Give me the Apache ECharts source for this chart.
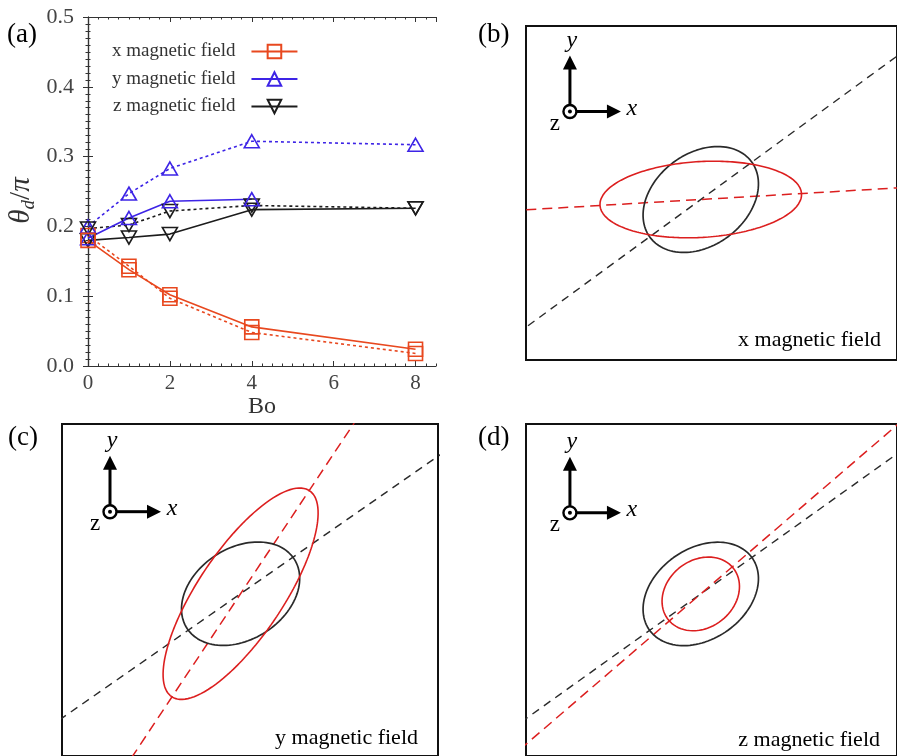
<!DOCTYPE html>
<html>
<head>
<meta charset="utf-8">
<script src="https://cdn.jsdelivr.net/npm/echarts@6.0.0/dist/echarts.min.js"></script>
<style>
  html, body { margin: 0; padding: 0; background: #fff; }
  #chart { width: 897px; height: 756px; }
</style>
</head>
<body>
<div id="chart"></div>
<script>
// ---- (a) deformation angle θd/π versus Bond number ----
const bondNumbers = [0, 1, 2, 4, 8];
const xFieldSolid  = [0.180, 0.138, 0.102, 0.056, 0.024];
const xFieldDotted = [0.187, 0.143, 0.097, 0.048, 0.018];
const yFieldBond   = [0, 1, 2, 4];
const yFieldSolid  = [0.183, 0.212, 0.236, 0.239];
const yFieldDotted = [0.200, 0.247, 0.283, 0.322, 0.317];
const zFieldSolid  = [0.180, 0.184, 0.189, 0.224, 0.226];
const zFieldDotted = [0.197, 0.202, 0.222, 0.230, 0.226];
const yTickLabels  = ['0.0', '0.1', '0.2', '0.3', '0.4', '0.5'];
const legendNames  = ['x magnetic field', 'y magnetic field', 'z magnetic field'];

// ---- (b)-(d) drop outlines: semi-axes and tilt (degrees) ----
const zeroFieldShape = { a: 64.3, b: 46.5, tilt: 34.8 };
const zeroFieldAxisTilt = 35.5;
const panelCaptions   = ['x magnetic field', 'y magnetic field', 'z magnetic field'];
const fieldSemiMajor  = [103.4, 126.0, 42.5];
const fieldSemiMinor  = [37.9, 43.0, 34.5];
const fieldShapeTilt  = [3.2, 57.0, 38.0];
const fieldAxisTilt   = [3.3, 57.0, 40.7];

const FONT = "'Liberation Serif', 'DejaVu Serif', serif";
const RED_A = '#e8481f', BLUE_A = '#3d24e6', BLACK_A = '#1c1c1c';
const RED = '#dc1f1f', DARK = '#2a2a2a';

function ellipsePoints(a, b, tiltDeg) {
  const th = tiltDeg * Math.PI / 180, pts = [];
  for (let k = 0; k <= 240; k++) {
    const t = k / 240 * 2 * Math.PI;
    pts.push([a * Math.cos(t) * Math.cos(th) - b * Math.sin(t) * Math.sin(th),
              a * Math.cos(t) * Math.sin(th) + b * Math.sin(t) * Math.cos(th)]);
  }
  return pts;
}
function axisThrough(tiltDeg) {
  const th = tiltDeg * Math.PI / 180, r = 900;
  return [[-r * Math.cos(th), -r * Math.sin(th)], [r * Math.cos(th), r * Math.sin(th)]];
}
const pairs = (xs, ys) => ys.map((v, i) => [xs[i], v]);

// panel frames for (b), (c), (d); the drop centre is the origin, 1 unit = 1 px
const views = [
  { left: 526, top: 26,  width: 380, height: 334, cx: 705,   cy: 199.5, triad: [-134, 88],    label: '(b)', lx: 478, ly: 35,  capX: 881, capY: 340 },
  { left: 62,  top: 424, width: 376, height: 340, cx: 240.6, cy: 597.8, triad: [-130.6, 84], label: '(c)', lx: 8,   ly: 438, capX: 418, capY: 738 },
  { left: 526, top: 424, width: 380, height: 340, cx: 705,   cy: 598,   triad: [-134, 83],    label: '(d)', lx: 478, ly: 438, capX: 880, capY: 740 }
];

const grids = [{ left: 88, top: 17, width: 348, height: 349, containLabel: false }];
views.forEach(v => grids.push({ left: v.left, top: v.top, width: v.width, height: v.height,
  show: true, borderColor: '#111', borderWidth: 2, backgroundColor: 'rgba(0,0,0,0)' }));

const axisLineA = { show: true, lineStyle: { color: '#333', width: 1.2 } };
const tickA = (len) => ({ show: true, inside: true, length: len, lineStyle: { color: '#333', width: 1 } });

const xAxes = [
  { gridIndex: 0, type: 'value', position: 'bottom', min: 0, max: 8.5, interval: 2,
    axisLine: axisLineA, axisTick: tickA(5), splitLine: { show: false },
    axisLabel: { showMaxLabel: false, fontFamily: FONT, fontSize: 21, color: '#444', margin: 7 },
    name: 'Bo', nameLocation: 'middle', nameGap: 15,
    nameTextStyle: { fontFamily: FONT, fontSize: 24, color: '#333' } },
  { gridIndex: 0, type: 'value', position: 'bottom', min: 0, max: 8.5, interval: 0.25,
    axisLine: { show: false }, axisTick: tickA(2.5), axisLabel: { show: false }, splitLine: { show: false } },
  { gridIndex: 0, type: 'value', position: 'top', min: 0, max: 8.5, interval: 2,
    axisLine: axisLineA, axisTick: tickA(5), axisLabel: { show: false }, splitLine: { show: false } },
  { gridIndex: 0, type: 'value', position: 'top', min: 0, max: 8.5, interval: 0.25,
    axisLine: { show: false }, axisTick: tickA(2.5), axisLabel: { show: false }, splitLine: { show: false } }
];
const minorA = { show: true, splitNumber: 10, length: 2.5, lineStyle: { color: '#333', width: 1 } };
const yAxes = [
  { gridIndex: 0, type: 'value', position: 'left', min: 0, max: 0.5, interval: 0.1,
    axisLine: axisLineA, axisTick: tickA(5), minorTick: minorA, splitLine: { show: false },
    axisLabel: { formatter: (v) => yTickLabels[Math.round(v * 10)], fontFamily: FONT, fontSize: 22, color: '#444', margin: 14 },
    name: '{t|θ}{d|d}{n|/}{t|π}', nameLocation: 'middle', nameGap: 50, nameRotate: 90,
    nameTextStyle: { fontFamily: FONT, fontSize: 28, color: '#333', padding: [0, 18, 0, 0],
      rich: { t: { fontFamily: FONT, fontStyle: 'italic', fontSize: 29, color: '#333', lineHeight: 34 },
              d: { fontFamily: FONT, fontStyle: 'italic', fontSize: 19, color: '#333', verticalAlign: 'bottom', lineHeight: 34 },
              n: { fontFamily: FONT, fontSize: 29, color: '#333', lineHeight: 34 } } } },
  { gridIndex: 0, type: 'value', position: 'right', min: 0, max: 0.5, interval: 0.1,
    axisLine: axisLineA, axisTick: tickA(5), minorTick: minorA, axisLabel: { show: false }, splitLine: { show: false } }
];
views.forEach((v, i) => {
  xAxes.push({ gridIndex: i + 1, type: 'value', show: false, min: v.left - v.cx, max: v.left + v.width - v.cx });
  yAxes.push({ gridIndex: i + 1, type: 'value', show: false, min: v.cy - (v.top + v.height), max: v.cy - v.top });
});

function seriesA(name, data, color, symbol, rotate, dotted, size) {
  return {
    name, type: 'line', xAxisIndex: 0, yAxisIndex: 0, data,
    symbol, symbolSize: size, symbolRotate: rotate, showSymbol: true, animation: false,
    lineStyle: { color, width: 1.6, type: dotted ? [3, 3] : 'solid' },
    itemStyle: { color: 'rgba(0,0,0,0)', borderColor: color, borderWidth: 1.6 },
    emphasis: { disabled: true }
  };
}
const series = [
  seriesA('x magnetic field dotted', pairs(bondNumbers, xFieldDotted), RED_A, 'rect', 0, true, 14),
  seriesA('y magnetic field dotted', pairs(bondNumbers, yFieldDotted), BLUE_A, 'triangle', 0, true, [15, 13]),
  seriesA('z magnetic field dotted', pairs(bondNumbers, zFieldDotted), BLACK_A, 'triangle', 180, true, [15, 13]),
  seriesA(legendNames[2], pairs(bondNumbers, zFieldSolid), BLACK_A, 'triangle', 180, false, [15, 13]),
  seriesA(legendNames[1], pairs(yFieldBond, yFieldSolid), BLUE_A, 'triangle', 0, false, [15, 13]),
  seriesA(legendNames[0], pairs(bondNumbers, xFieldSolid), RED_A, 'rect', 0, false, 14)
];

function outline(i, data, color, dash, width) {
  return { type: 'line', xAxisIndex: 4 + i, yAxisIndex: 2 + i, data, showSymbol: false, symbol: 'none',
    clip: true, animation: false, silent: true,
    lineStyle: { color, width, type: dash || 'solid' } };
}
views.forEach((v, i) => {
  series.push(outline(i, axisThrough(zeroFieldAxisTilt), DARK, [8, 6], 1.4));
  series.push(outline(i, axisThrough(fieldAxisTilt[i]), RED, [10, 6], 1.5));
  series.push(outline(i, ellipsePoints(zeroFieldShape.a, zeroFieldShape.b, zeroFieldShape.tilt), DARK, null, 1.7));
  series.push(outline(i, ellipsePoints(fieldSemiMajor[i], fieldSemiMinor[i], fieldShapeTilt[i]), RED, null, 1.6));
});

const chart = echarts.init(document.getElementById('chart'), null, { renderer: 'canvas' });
chart.setOption({
  backgroundColor: '#fff',
  animation: false,
  grid: grids, xAxis: xAxes, yAxis: yAxes, series,
  legend: {
    data: legendNames, orient: 'vertical', left: 112, top: 42, padding: 0, align: 'right',
    itemWidth: 46, itemHeight: 17, itemGap: 8.5, selectedMode: false,
    textStyle: { fontFamily: FONT, fontSize: 19, color: '#333', padding: [0, 11, 0, 0] }
  }
});

// coordinate triads, panel letters and captions
const g = [{ type: 'text', x: 7, y: 35, style: { text: '(a)', font: '27px ' + FONT, fill: '#000', verticalAlign: 'middle' } }];
views.forEach((v, i) => {
  const [ox, oy] = chart.convertToPixel({ xAxisIndex: 4 + i, yAxisIndex: 2 + i }, v.triad);
  g.push({ type: 'text', x: v.lx, y: v.ly, style: { text: v.label, font: '27px ' + FONT, fill: '#000', verticalAlign: 'middle' } });
  g.push({ type: 'text', x: v.capX, y: v.capY, style: { text: panelCaptions[i], font: '22px ' + FONT, fill: '#000', align: 'right', verticalAlign: 'middle' } });
  g.push({ type: 'line', shape: { x1: ox, y1: oy - 6, x2: ox, y2: oy - 43 }, style: { stroke: '#000', lineWidth: 3 } });
  g.push({ type: 'polygon', shape: { points: [[ox - 7, oy - 42], [ox + 7, oy - 42], [ox, oy - 56]] }, style: { fill: '#000' } });
  g.push({ type: 'line', shape: { x1: ox + 6, y1: oy, x2: ox + 38, y2: oy }, style: { stroke: '#000', lineWidth: 3 } });
  g.push({ type: 'polygon', shape: { points: [[ox + 37, oy - 7], [ox + 37, oy + 7], [ox + 51, oy]] }, style: { fill: '#000' } });
  g.push({ type: 'circle', shape: { cx: ox, cy: oy, r: 6.5 }, style: { stroke: '#000', lineWidth: 2.4, fill: '#fff' } });
  g.push({ type: 'circle', shape: { cx: ox, cy: oy, r: 2 }, style: { fill: '#000' } });
  g.push({ type: 'text', x: ox + 2, y: oy - 71, style: { text: 'y', font: 'italic 24px ' + FONT, fill: '#000', align: 'center', verticalAlign: 'middle' } });
  g.push({ type: 'text', x: ox + 62, y: oy - 3, style: { text: 'x', font: 'italic 24px ' + FONT, fill: '#000', align: 'center', verticalAlign: 'middle' } });
  g.push({ type: 'text', x: ox - 15, y: oy + 12, style: { text: 'z', font: '23px ' + FONT, fill: '#000', align: 'center', verticalAlign: 'middle' } });
});
chart.setOption({ graphic: g });
</script>
</body>
</html>
